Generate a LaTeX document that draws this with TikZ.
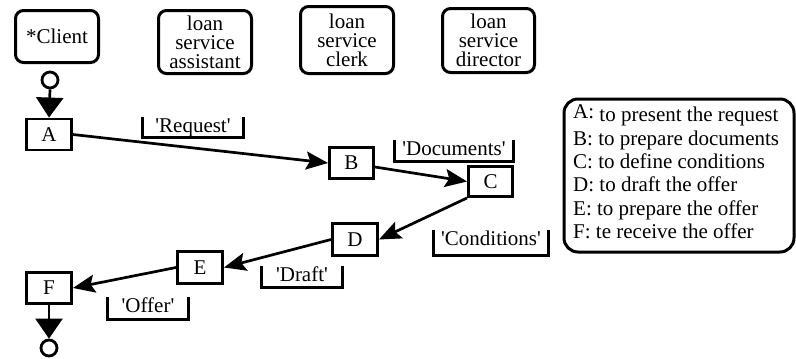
\documentclass[tikz,border=0pt]{standalone}
\usepackage{fontspec}
\setmainfont{Liberation Serif}
\usetikzlibrary{arrows.meta}

\begin{document}
\begin{tikzpicture}[x=1pt,y=-1pt,
  every node/.style={font=\fontsize{21}{19}\selectfont},
  lane/.style={draw, line width=3pt, rounded corners=8pt, align=center, inner sep=0pt},
  act/.style={draw, line width=2.9pt, minimum width=45pt, minimum height=31pt, inner sep=0pt},
  tag/.style={inner xsep=0pt, inner ysep=1pt, text height=14pt, text depth=4pt},
  brk/.style={line width=2.8pt},
  flow/.style={line width=2.7pt, -{Stealth[length=22pt,width=18pt,inset=4pt]}},
  term/.style={draw, circle, line width=2.8pt, minimum size=16pt, inner sep=0pt},
  endflow/.style={line width=2.7pt, -{Triangle[length=20pt,width=27pt]}}
]
\useasboundingbox (0,0) rectangle (796,359);

% swimlane headers
\node[lane, minimum width=83pt, minimum height=52pt] (client) at (57,36.5) {*Client};
\node[lane, minimum width=93pt, minimum height=63pt] (assistant) at (205,42) {loan\\service\\assistant};
\node[lane, minimum width=93pt, minimum height=67pt] (clerk) at (347,40) {loan\\service\\clerk};
\node[lane, minimum width=92pt, minimum height=64pt] (director) at (488.5,40.5) {loan\\service\\director};

% activities
\node[act] (A) at (49,134.5) {A};
\node[act, minimum width=44pt] (B) at (351.5,163) {B};
\node[act, minimum width=44pt, minimum height=30pt] (C) at (490.5,181.5) {C};
\node[act, minimum height=32pt] (D) at (355,239.5) {D};
\node[act, minimum height=32pt] (E) at (200,267.5) {E};
\node[act] (F) at (49,288) {F};

% start and end
\node[term] (start) at (50,80) {};
\node[term] (stop) at (49,348) {};
\draw[endflow] (start.south) -- (A.north);
\draw[endflow] (F.south) -- (stop.north);

% flows
\draw[flow] (A.east) -- (B.west);
\draw[flow] ([yshift=-4pt]B.east) -- (C.west);
\draw[flow] (C.south west) -- (D.east);
\draw[flow] (D.west) -- (E.east);
\draw[flow] (E.west) -- (F.east);

% messages
\node[tag, minimum width=100pt] (req) at (193,127) {\textquotesingle Request\textquotesingle};
\node[tag, minimum width=118pt, text depth=5pt] (doc) at (454,150.5) {\textquotesingle Documents\textquotesingle};
\node[tag, minimum width=114pt, text depth=9pt] (cond) at (491,242.5) {\textquotesingle Conditions\textquotesingle};
\node[tag, minimum width=80pt, text depth=5pt] (draft) at (302,276.5) {\textquotesingle Draft\textquotesingle};
\node[tag, minimum width=80pt, text depth=6pt] (offer) at (148,308) {\textquotesingle Offer\textquotesingle};
\foreach \t in {req,doc,cond,draft,offer}
  \draw[brk] (\t.north west) -- (\t.south west) -- (\t.south east) -- (\t.north east);

% legend
\node[draw, line width=3pt, rounded corners=14pt, minimum width=230pt, minimum height=153pt, inner sep=0pt] (legend) at (679,175.5) {};
\node[anchor=west, align=left, inner sep=0pt, font=\fontsize{21}{23.4}\selectfont] (legendtext) at (573,172)
  {\raisebox{3pt}{A:} to present the request\\
   B: to prepare documents\\
   C: to define conditions\\
   D: to draft the offer\\
   E: to prepare the offer\\
   F: te receive the offer};
\end{tikzpicture}
\end{document}
